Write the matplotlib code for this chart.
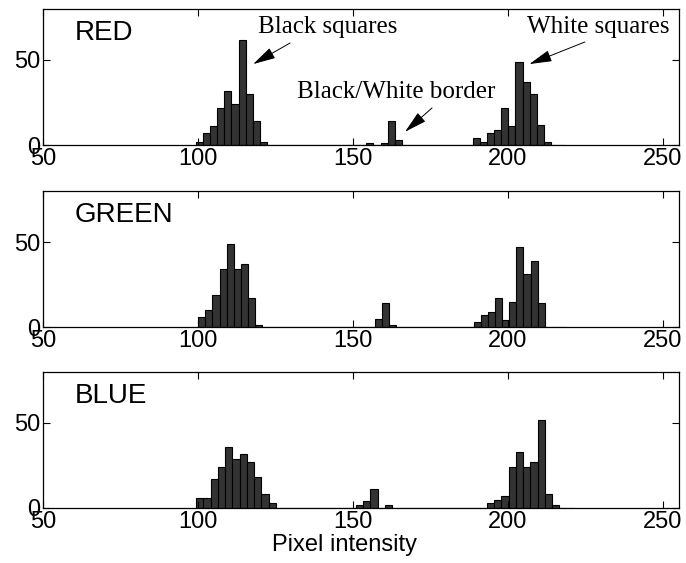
import numpy as np
import matplotlib
matplotlib.use('Agg')
import matplotlib.pyplot as plt

# histogram bins (left edge of first bin, bin width)
red_start, red_width = 99.35, 2.29
green_start, green_width = 100.1, 2.28
blue_start, blue_width = 99.35, 2.345

# counts per group of bins: (first bin index, counts)
red_groups = [(0, [2, 7, 11, 22, 32, 24, 62, 30, 14, 2]),
              (24, [1, 0, 1, 14, 3]),
              (39, [4, 2, 7, 9, 22, 11, 49, 37, 30, 12, 2])]
green_groups = [(0, [6, 10, 19, 34, 49, 34, 37, 17, 1]),
                (25, [5, 14, 1]),
                (39, [3, 7, 9, 17, 4, 15, 47, 31, 39, 14])]
blue_groups = [(0, [6, 6, 17, 24, 36, 29, 32, 27, 18, 8, 3]),
               (22, [2, 4, 11, 0, 2]),
               (40, [3, 5, 7, 24, 33, 24, 27, 52, 8, 2])]

channels = ['RED', 'GREEN', 'BLUE']
x_ticks = [50, 100, 150, 200, 250]
y_ticks = [0, 50]

plt.rcParams['font.family'] = ['Liberation Sans', 'DejaVu Sans']

fig = plt.figure(figsize=(6.86, 5.63), dpi=100)
bottoms = [1 - 145 / 563, 1 - 327 / 563, 1 - 508 / 563]
left = 43 / 686
width = (678.5 - 43) / 686
height = 136 / 563

hists = [(red_start, red_width, red_groups),
         (green_start, green_width, green_groups),
         (blue_start, blue_width, blue_groups)]

axes = []
for i, name in enumerate(channels):
    ax = fig.add_axes([left, bottoms[i], width, height])
    start, w, groups = hists[i]
    n_bins = 52
    counts = np.zeros(n_bins)
    for first, vals in groups:
        counts[first:first + len(vals)] = vals
    edges = start + np.arange(n_bins) * w
    ax.bar(edges, counts, width=w, align='edge', color='#333333',
           edgecolor='black', linewidth=0.8)
    ax.set_xlim(50, 255)
    ax.set_ylim(0, 80)
    ax.set_xticks(x_ticks)
    ax.set_yticks(y_ticks)
    ax.tick_params(direction='in', top=True, right=True, length=5, width=0.8,
                   labelsize=17, pad=2)
    for s in ax.spines.values():
        s.set_linewidth(0.9)
    ax.text(0.05, 0.82, name, transform=ax.transAxes, fontsize=20,
            va='center', ha='left')
    axes.append(ax)

# annotations on the red panel
ax = axes[0]
serif = ['Liberation Serif', 'DejaVu Serif']
arrow = dict(arrowstyle='-|>,head_length=0.7,head_width=0.18', color='black',
             lw=0.7, mutation_scale=20, shrinkA=0, shrinkB=0)
ax.text(119.4, 69.4, 'Black squares', family=serif, fontsize=18,
        va='center', ha='left')
ax.text(206.1, 69.4, 'White squares', family=serif, fontsize=18,
        va='center', ha='left')
ax.text(131.9, 31.2, 'Black/White border', family=serif, fontsize=18,
        va='center', ha='left')
ax.annotate('', xy=(117.8, 47.6), xytext=(129.7, 60), arrowprops=arrow)
ax.annotate('', xy=(206.9, 47.6), xytext=(224.8, 60.6), arrowprops=arrow)
ax.annotate('', xy=(166.8, 7.8), xytext=(175.5, 21.8), arrowprops=arrow)

fig.text(345 / 686, 1 - 545 / 563, 'Pixel intensity', fontsize=17,
         ha='center', va='center')

fig.savefig('out.png', dpi=100)
